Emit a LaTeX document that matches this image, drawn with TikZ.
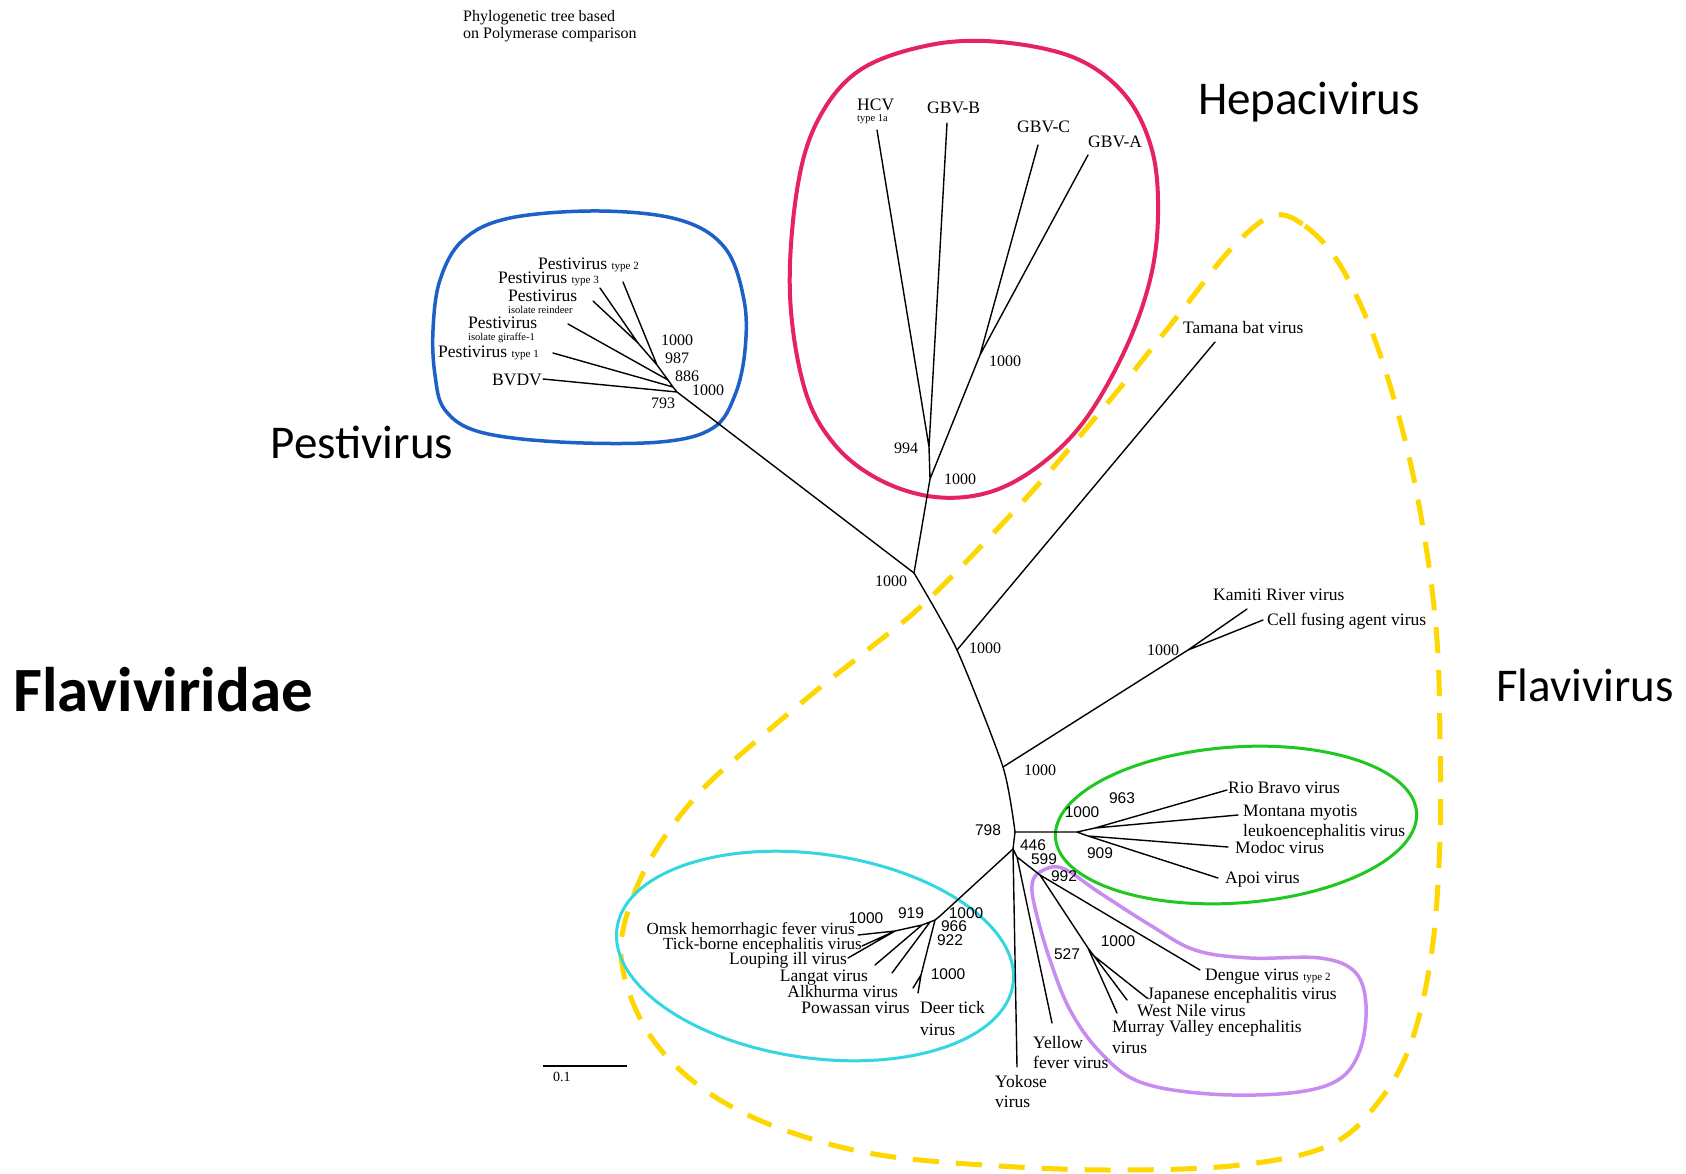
\documentclass[tikz,border=0pt]{standalone}
\usepackage{fontspec}
\setmainfont{Liberation Serif}
\newfontfamily\arialf{Liberation Sans}
\newfontfamily\calf{Carlito}
\definecolor{pblue}{RGB}{30,95,200}
\definecolor{hred}{RGB}{228,35,95}
\definecolor{fyel}{RGB}{255,215,0}
\definecolor{ccyan}{RGB}{50,215,225}
\definecolor{ggreen}{RGB}{30,200,30}
\definecolor{ppurp}{RGB}{200,140,240}
\newcommand{\smt}[1]{{\fontsize{11}{12}\selectfont #1}}
\begin{document}
\begin{tikzpicture}[x=1pt,y=-1pt,
  br/.style={line width=1.4pt, line cap=round},
  lab/.style={inner sep=0pt, anchor=base west, font=\fontsize{17.5}{20}\selectfont},
  labr/.style={inner sep=0pt, anchor=base east, font=\fontsize{17.5}{20}\selectfont},
  sml/.style={inner sep=0pt, anchor=base west, font=\fontsize{10.5}{12}\selectfont},
  bt/.style={inner sep=0pt, font=\fontsize{16}{18}\selectfont},
  ba/.style={inner sep=0pt, font=\arialf\fontsize{15.5}{18}\selectfont},
  big/.style={inner sep=0pt, font=\calf\fontsize{47}{56}\selectfont},
]
\useasboundingbox[fill=white] (0,0) rectangle (1686,1173);

% ---------- group outlines ----------
\draw[fyel, line width=5pt, dash pattern=on 26pt off 17pt]
  plot[smooth cycle, tension=0.6] coordinates {
  (1272,216) (1305,226) (1340,265) (1375,340) (1405,440) (1425,540) (1437,640)
  (1440,740) (1440,840) (1432,950) (1412,1040) (1380,1100) (1330,1145) (1240,1165)
  (1120,1170) (1000,1166) (880,1155) (790,1132) (720,1100) (668,1058) (636,1010)
  (621,955) (630,905) (656,850) (700,792) (755,742) (817,690) (870,648) (930,598)
  (1027,497) (1110,400) (1180,313) (1230,250)};

\draw[pblue, line width=3.5pt]
  plot[smooth cycle, tension=0.6] coordinates {
  (433,330) (440,280) (463,240) (510,218) (600,211) (680,220) (725,248) (744,300)
  (745,350) (735,395) (713,428) (660,442) (560,442) (480,432) (445,410) (435,375)};

\draw[hred, line width=4pt]
  plot[smooth cycle, tension=0.6] coordinates {
  (790,295) (797,190) (818,120) (860,70) (930,45) (1000,42) (1075,58) (1125,95)
  (1152,150) (1158,215) (1150,280) (1125,350) (1085,420) (1040,465) (990,492)
  (935,497) (880,480) (835,445) (805,390)};

\draw[ccyan, line width=3pt, rotate around={-8:(815,956)}] (815,956) ellipse [x radius=200, y radius=102];
\draw[ggreen, line width=3pt, rotate around={4:(1236,825)}] (1236,825) ellipse [x radius=181, y radius=78];

\draw[ppurp, line width=3.5pt]
  plot[smooth cycle, tension=0.6] coordinates {
  (1040,872) (1062,868) (1100,893) (1150,925) (1195,950) (1250,958) (1320,958)
  (1355,972) (1366,1005) (1360,1050) (1338,1080) (1290,1093) (1210,1094)
  (1140,1082) (1100,1052) (1070,1010) (1050,960) (1036,912) (1032,885)};

% ---------- tree coordinates ----------
\coordinate (root) at (914,573);
% Pestivirus
\coordinate (p5) at (677,392);
\coordinate (p4) at (673,387);
\coordinate (p3) at (668,380);
\coordinate (p2) at (657,365);
\coordinate (p1) at (638,343);
\coordinate (bvdv) at (543,379);
\coordinate (pt1) at (553,353);
\coordinate (pgir) at (568,324);
\coordinate (prein) at (593,301);
\coordinate (pt3) at (600,288);
\coordinate (pt2) at (623,282);
% Hepacivirus
\coordinate (h1000) at (930,479);
\coordinate (h994) at (929,447);
\coordinate (hca) at (980,355);
\coordinate (hcv) at (877,130);
\coordinate (gbvb) at (947,123);
\coordinate (gbvc) at (1038,145);
\coordinate (gbva) at (1088,155);
% Flavivirus stem
\coordinate (tam) at (957,650);
\coordinate (tamE) at (1215,342);
\coordinate (kam) at (1003,767);
\coordinate (kc) at (1188,650);
\coordinate (kamE) at (1247,609);
\coordinate (cfaE) at (1263,620);
\coordinate (n798) at (1015,832);
\coordinate (n446) at (1013,849);
% green
\coordinate (g1000) at (1077,832);
\coordinate (g963) at (1095,828);
\coordinate (g909) at (1088,836);
\coordinate (rb) at (1227,790);
\coordinate (mm) at (1238,815);
\coordinate (mo) at (1228,847);
\coordinate (ap) at (1218,878);
% purple etc
\coordinate (n599) at (1017,857);
\coordinate (yok) at (1017,1067);
\coordinate (yf) at (1052,1023);
\coordinate (n992) at (1040,875);
\coordinate (den) at (1200,970);
\coordinate (n527) at (1088,948);
\coordinate (njw) at (1094,956);
\coordinate (jev) at (1147,998);
\coordinate (wnv) at (1127,1000);
\coordinate (mve) at (1117,1013);
% cyan
\coordinate (cA) at (940,916);
\coordinate (cB) at (935,920);
\coordinate (cC) at (930,922);
\coordinate (c919) at (922,925);
\coordinate (cO) at (895,931);
\coordinate (cPD) at (921,975);
\coordinate (omsk) at (858,935);
\coordinate (tbe) at (862,946);
\coordinate (lou) at (848,958);
\coordinate (lan) at (875,965);
\coordinate (alk) at (892,973);
\coordinate (pow) at (913,988);
\coordinate (dt) at (918,993);

% ---------- branches ----------
\draw[br] (root) -- (p5) (p5) -- (bvdv) (p5) -- (p4) (p4) -- (pt1) (p4) -- (p3)
  (p3) -- (pgir) (p3) -- (p2) (p2) -- (pt2) (p2) -- (p1) (p1) -- (pt3) (p1) -- (prein);
\draw[br] (root) -- (h1000) (h1000) -- (h994) (h994) -- (hcv) (h994) -- (gbvb)
  (h1000) -- (hca) (hca) -- (gbvc) (hca) -- (gbva);
\draw[br] plot[smooth, tension=0.4] coordinates {(root) (tam) (kam) (n798)};
\draw[br] (n798) -- (n446);
\draw[br] (tam) -- (tamE) (kam) -- (kc) (kc) -- (kamE) (kc) -- (cfaE);
\draw[br] (n798) -- (g1000) (g1000) -- (g963) (g963) -- (rb) (g963) -- (mm)
  (g1000) -- (g909) (g909) -- (mo) (g909) -- (ap);
\draw[br] (n446) -- (yok) (n446) -- (n599) (n599) -- (yf) (n599) -- (n992)
  (n992) -- (den) (n992) -- (n527) (n527) -- (mve) (n527) -- (njw)
  (njw) -- (jev) (njw) -- (wnv);
\draw[br] (n446) -- (cA) (cA) -- (cB) (cB) -- (cPD) (cPD) -- (pow) (cPD) -- (dt)
  (cB) -- (cC) (cC) -- (alk) (cC) -- (c919) (c919) -- (lan) (c919) -- (cO)
  (cO) -- (omsk) (cO) -- (tbe) (cO) -- (lou);

% ---------- scale bar ----------
\coordinate (sb1) at (543,1066);
\coordinate (sb2) at (627,1066);
\draw[line width=1.6pt] (sb1) -- (sb2);
\node[inner sep=0pt, anchor=base west, font=\fontsize{14}{16}\selectfont] (sbl) at (553,1081) {0.1};

% ---------- title ----------
\node[inner sep=0pt, anchor=base west, font=\fontsize{16}{18}\selectfont] (t1) at (463,21) {Phylogenetic tree based};
\node[inner sep=0pt, anchor=base west, font=\fontsize{16}{18}\selectfont] (t2) at (463,38) {on Polymerase comparison};

% ---------- group names ----------
\node[big] (gh) at (1309,102) {Hepacivirus};
\node[big] (gp) at (362,442) {Pestivirus};
\node[big] (gf) at (1585,685) {Flavivirus};
\node[inner sep=0pt, font=\calf\bfseries\fontsize{63}{72}\selectfont] (gfam) at (163,690) {Flaviviridae};

% ---------- Pestivirus labels ----------
\node[lab] (lpt2) at (538,269) {Pestivirus \smt{type 2}};
\node[lab] (lpt3) at (498,283) {Pestivirus \smt{type 3}};
\node[lab] (lpr) at (508,301) {Pestivirus};
\node[sml] (lpr2) at (508,313) {isolate reindeer};
\node[lab] (lpg) at (468,328) {Pestivirus};
\node[sml] (lpg2) at (468,340) {isolate giraffe-1};
\node[lab] (lpt1) at (438,357) {Pestivirus \smt{type 1}};
\node[lab] (lbv) at (492,385) {BVDV};
\node[bt] (bp1) at (677,340) {1000};
\node[bt] (bp2) at (677,358) {987};
\node[bt] (bp3) at (687,376) {886};
\node[bt] (bp4) at (708,390) {1000};
\node[bt] (bp5) at (663,403) {793};

% ---------- Hepacivirus labels ----------
\node[lab] (lhcv) at (857,110) {HCV};
\node[sml] (lhcv2) at (857,121) {type 1a};
\node[lab] (lgb) at (927,113) {GBV-B};
\node[lab] (lgc) at (1017,132) {GBV-C};
\node[lab] (lga) at (1088,147) {GBV-A};
\node[bt] (bh1) at (906,448) {994};
\node[bt] (bh2) at (960,479) {1000};
\node[bt] (bh3) at (1005,361) {1000};

% ---------- stem labels ----------
\node[bt] (bs1) at (891,581) {1000};
\node[bt] (bs2) at (985,648) {1000};
\node[bt] (bs3) at (1040,770) {1000};
\node[bt] (bs4) at (1163,650) {1000};
\node[lab] (ltam) at (1183,333) {Tamana bat virus};
\node[lab] (lkam) at (1213,600) {Kamiti River virus};
\node[lab] (lcfa) at (1267,625) {Cell fusing agent virus};

% ---------- green group ----------
\node[ba] (b798) at (988,830) {798};
\node[ba] (bg1) at (1082,812) {1000};
\node[ba] (bg2) at (1122,798) {963};
\node[ba] (bg3) at (1100,853) {909};
\node[lab] (lrb) at (1228,793) {Rio Bravo virus};
\node[lab] (lmm) at (1243,816) {Montana myotis};
\node[lab] (lmm2) at (1243,836) {leukoencephalitis virus};
\node[lab] (lmo) at (1235,853) {Modoc virus};
\node[lab] (lap) at (1225,883) {Apoi virus};

% ---------- purple group ----------
\node[ba] (b446) at (1033,845) {446};
\node[ba] (b599) at (1044,859) {599};
\node[ba] (b992) at (1064,876) {992};
\node[ba] (b527) at (1067,954) {527};
\node[ba] (bjw) at (1118,941) {1000};
\node[lab] (lden) at (1205,980) {Dengue virus \smt{type 2}};
\node[lab] (ljev) at (1147,999) {Japanese encephalitis virus};
\node[lab] (lwnv) at (1137,1016) {West Nile virus};
\node[lab] (lmve) at (1112,1032) {Murray Valley encephalitis};
\node[lab] (lmve2) at (1112,1053) {virus};
\node[lab] (lyf) at (1033,1048) {Yellow};
\node[lab] (lyf2) at (1033,1068) {fever virus};
\node[lab] (lyok) at (995,1087) {Yokose};
\node[lab] (lyok2) at (995,1107) {virus};

% ---------- cyan group ----------
\node[ba] (bc1) at (966,913) {1000};
\node[ba] (bc2) at (954,926) {966};
\node[ba] (bc3) at (950,940) {922};
\node[ba] (bc4) at (911,913) {919};
\node[ba] (bc5) at (866,918) {1000};
\node[ba] (bc6) at (948,974) {1000};
\node[labr, font=\fontsize{17}{19}\selectfont] (lomsk) at (855,934) {Omsk hemorrhagic fever virus};
\node[labr, font=\fontsize{17}{19}\selectfont] (ltbe) at (862,949) {Tick-borne encephalitis virus};
\node[labr] (llou) at (847,964) {Louping ill virus};
\node[labr] (llan) at (868,981) {Langat virus};
\node[labr] (lalk) at (898,997) {Alkhurma virus};
\node[labr] (lpow) at (910,1013) {Powassan virus};
\node[lab] (ldt) at (920,1013) {Deer tick};
\node[lab] (ldt2) at (920,1035) {virus};
\end{tikzpicture}
\end{document}
